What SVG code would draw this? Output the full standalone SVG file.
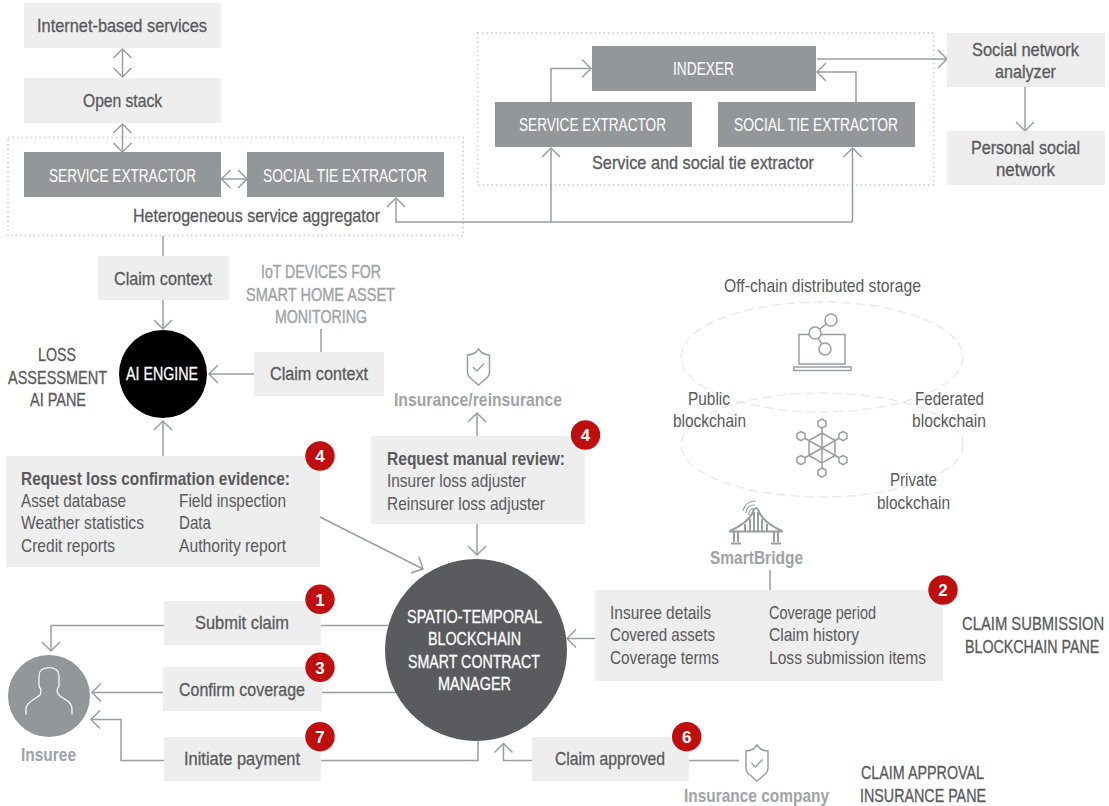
<svg xmlns="http://www.w3.org/2000/svg" width="1109" height="806" viewBox="0 0 1109 806">
<style>
text{font-family:"Liberation Sans",Arial,sans-serif;font-size:18.5px;fill:#58595b}
.m{stroke:#58595b;stroke-width:.3}
.w{fill:#fff}
.wm{fill:#fff;stroke:#fff;stroke-width:.3}
.g{fill:#a0a3a4;font-weight:bold;stroke:none}
.gm{fill:#a0a3a4;stroke:#a0a3a4;stroke-width:.4}
.b{font-weight:bold}
.n{fill:#fff;font-weight:bold;font-size:17px;text-anchor:middle}
.lt{fill:#eeeeee}
.dk{fill:#939799}
.badge{fill:#c00d0d}
.dot{fill:none;stroke:#d4d6d7;stroke-width:2;stroke-dasharray:1.5 3}
.ell{fill:none;stroke:#e6e7e8;stroke-width:1.3;stroke-dasharray:9 5}
.c{fill:none;stroke:#9a9d9f;stroke-width:1.5}
.ar{marker-end:url(#a)}
.ab{marker-start:url(#as);marker-end:url(#a)}
.ic{fill:none;stroke:#9a9d9f;stroke-width:1.5}
.icf{fill:#fff;stroke:#9a9d9f;stroke-width:1.5}
</style>
<defs>
<marker id="a" markerUnits="userSpaceOnUse" markerWidth="22" markerHeight="24" refX="11" refY="12" orient="auto"><path d="M2,3 L11,12 L2,21" fill="none" stroke="#9a9d9f" stroke-width="1.5"/></marker>
<marker id="as" markerUnits="userSpaceOnUse" markerWidth="22" markerHeight="24" refX="11" refY="12" orient="auto"><path d="M20,3 L11,12 L20,21" fill="none" stroke="#9a9d9f" stroke-width="1.5"/></marker>
<path id="shield" d="M0,-18 L3,-14.500 Q7,-12 11,-12 L11,5 Q11,9 7,12 L0,18 L-7,12 Q-11,9 -11,5 L-11,-12 Q-7,-12 -3,-14.500 Z M-5.500,0 L-1.500,4 L5.500,-3.500"/>
</defs>

<rect class="dot" x="8" y="137.500" width="455" height="98"/>
<rect class="dot" x="477.500" y="33" width="456" height="152"/>
<ellipse class="ell" cx="822" cy="357" rx="141" ry="55"/>
<ellipse class="ell" cx="822" cy="445" rx="141" ry="52"/>

<g id="connectors">
<path class="c ab" d="M122.500,49V77"/>
<path class="c ab" d="M122.500,124V152"/>
<path class="c ab" d="M221.500,179H247"/>
<path class="c ar" d="M852.500,222H396V198"/>
<path class="c ar" d="M852.500,222V148"/>
<path class="c ar" d="M551,222V148"/>
<path class="c ar" d="M551,102V68.500H591"/>
<path class="c ar" d="M856,102V72H817"/>
<path class="c ar" d="M817,59H947"/>
<path class="c ar" d="M1025,87V131"/>
<path class="c" d="M163,236V256"/>
<path class="c ar" d="M163,300V329"/>
<path class="c ar" d="M254,374H209"/>
<path class="c" d="M321,329V352"/>
<path class="c ar" d="M163,458V421"/>
<path class="c ar" d="M320,517L423,569"/>
<path class="c ar" d="M477,436V413"/>
<path class="c ar" d="M477,524V555"/>
<path class="c ar" d="M595,638.500H567"/>
<path class="c" d="M770,570V590"/>
<path class="c" d="M321,625.500H388"/>
<path class="c ar" d="M164,625.500H51V651"/>
<path class="c" d="M322,692.500H397"/>
<path class="c ar" d="M163,692.500H92"/>
<path class="c" d="M321,760.500H478V741"/>
<path class="c ar" d="M164,760.500H121V719.500H91"/>
<path class="c ar" d="M532,760.500H503.500V743.500"/>
<path class="c" d="M689,760.500H739"/>
</g>

<g id="internet"><rect class="lt" x="24" y="3" width="197" height="45"/><text class="m" x="37" y="32" textLength="170" lengthAdjust="spacingAndGlyphs">Internet-based services</text></g>
<g id="openstack"><rect class="lt" x="24" y="78" width="197" height="45"/><text class="m" x="83" y="107" textLength="79" lengthAdjust="spacingAndGlyphs">Open stack</text></g>
<g id="service1"><rect class="dk" x="24" y="152" width="197" height="45"/><text class="w" x="49" y="182" textLength="147" lengthAdjust="spacingAndGlyphs">SERVICE EXTRACTOR</text></g>
<g id="social1"><rect class="dk" x="247" y="152" width="197" height="45"/><text class="w" x="263" y="182" textLength="164" lengthAdjust="spacingAndGlyphs">SOCIAL TIE EXTRACTOR</text></g>
<g id="aggregator-label"><text class="m" x="133" y="222" textLength="247" lengthAdjust="spacingAndGlyphs">Heterogeneous service aggregator</text></g>

<g id="indexer"><rect class="dk" x="592" y="46" width="224" height="45"/><text class="w" x="673" y="75" textLength="61" lengthAdjust="spacingAndGlyphs">INDEXER</text></g>
<g id="service2"><rect class="dk" x="495" y="102" width="197" height="45"/><text class="w" x="519" y="131" textLength="147" lengthAdjust="spacingAndGlyphs">SERVICE EXTRACTOR</text></g>
<g id="social2"><rect class="dk" x="718" y="102" width="197" height="45"/><text class="w" x="734" y="131" textLength="164" lengthAdjust="spacingAndGlyphs">SOCIAL TIE EXTRACTOR</text></g>
<g id="extractor-label"><text class="m" x="592" y="169" textLength="222" lengthAdjust="spacingAndGlyphs">Service and social tie extractor</text></g>
<g id="analyzer"><rect class="lt" x="947" y="33" width="158" height="54"/><text class="m" x="972" y="56" textLength="107" lengthAdjust="spacingAndGlyphs">Social network</text><text class="m" x="995" y="78" textLength="61" lengthAdjust="spacingAndGlyphs">analyzer</text></g>
<g id="personal"><rect class="lt" x="947" y="131" width="158" height="54"/><text class="m" x="971" y="154" textLength="109" lengthAdjust="spacingAndGlyphs">Personal social</text><text class="m" x="996" y="176" textLength="59" lengthAdjust="spacingAndGlyphs">network</text></g>

<g id="claimcontext1"><rect class="lt" x="98" y="256" width="131" height="44"/><text class="m" x="114" y="285" textLength="98" lengthAdjust="spacingAndGlyphs">Claim context</text></g>
<g id="iot"><text class="gm" x="261" y="278" textLength="120" lengthAdjust="spacingAndGlyphs">IoT DEVICES FOR</text><text class="gm" x="246" y="301" textLength="149" lengthAdjust="spacingAndGlyphs">SMART HOME ASSET</text><text class="gm" x="275" y="323" textLength="92" lengthAdjust="spacingAndGlyphs">MONITORING</text></g>
<g id="aiengine"><circle cx="163" cy="374" r="44" fill="#000"/><text class="wm" x="126" y="380" textLength="72" lengthAdjust="spacingAndGlyphs">AI ENGINE</text></g>
<g id="claimcontext2"><rect class="lt" x="254" y="352" width="130" height="44"/><text class="m" x="270" y="380" textLength="98" lengthAdjust="spacingAndGlyphs">Claim context</text></g>
<g id="losspane"><text class="m" x="38" y="361" textLength="38" lengthAdjust="spacingAndGlyphs">LOSS</text><text class="m" x="8" y="384" textLength="99" lengthAdjust="spacingAndGlyphs">ASSESSMENT</text><text class="m" x="30" y="406" textLength="56" lengthAdjust="spacingAndGlyphs">AI PANE</text></g>

<g id="evidence"><rect class="lt" x="6" y="456" width="314" height="111"/>
<text class="b" x="21" y="485" textLength="269" lengthAdjust="spacingAndGlyphs">Request loss confirmation evidence:</text>
<text x="21" y="507" textLength="105" lengthAdjust="spacingAndGlyphs">Asset database</text>
<text x="21" y="529" textLength="123" lengthAdjust="spacingAndGlyphs">Weather statistics</text>
<text x="21" y="552" textLength="94" lengthAdjust="spacingAndGlyphs">Credit reports</text>
<text x="179" y="507" textLength="107" lengthAdjust="spacingAndGlyphs">Field inspection</text>
<text x="179" y="529" textLength="32" lengthAdjust="spacingAndGlyphs">Data</text>
<text x="179" y="552" textLength="107" lengthAdjust="spacingAndGlyphs">Authority report</text>
<circle class="badge" cx="320" cy="456" r="14.700"/><text class="n" x="320" y="462">4</text></g>

<g id="insurance"><g class="ic"><use href="#shield" x="478.500" y="367"/></g><text class="g" x="394" y="406" textLength="168" lengthAdjust="spacingAndGlyphs">Insurance/reinsurance</text></g>
<g id="manual"><rect class="lt" x="371" y="436" width="214" height="88"/>
<text class="b" x="387" y="465" textLength="178" lengthAdjust="spacingAndGlyphs">Request manual review:</text>
<text x="387" y="487" textLength="139" lengthAdjust="spacingAndGlyphs">Insurer loss adjuster</text>
<text x="387" y="510" textLength="158" lengthAdjust="spacingAndGlyphs">Reinsurer loss adjuster</text>
<circle class="badge" cx="585.500" cy="435" r="14.700"/><text class="n" x="585.500" y="441">4</text></g>

<g id="storage"><text x="724" y="292" textLength="197" lengthAdjust="spacingAndGlyphs">Off-chain distributed storage</text>
<rect class="ic" x="799" y="334.500" width="46" height="29.500"/><rect class="ic" x="794" y="367" width="57" height="3.500"/>
<path class="ic" d="M815,333L831,320M815,333L825,349"/>
<circle class="icf" cx="831" cy="320" r="6"/><circle class="icf" cx="815" cy="333" r="6"/><circle class="icf" cx="825" cy="349" r="6"/></g>
<g id="network">
<path class="ic" d="M822,433L835,440.500V455.500L822,463L809,455.500V440.500Z M822,424V472 M801,436L843,460 M843,436L801,460"/>
<path class="icf" d="M822,419l4,2.300v4.600l-4,2.300l-4,-2.300v-4.600Z M843,431.500l4,2.300v4.600l-4,2.300l-4,-2.300v-4.600Z M843,455.500l4,2.300v4.600l-4,2.300l-4,-2.300v-4.600Z M822,468l4,2.300v4.600l-4,2.300l-4,-2.300v-4.600Z M801,455.500l4,2.300v4.600l-4,2.300l-4,-2.300v-4.600Z M801,431.500l4,2.300v4.600l-4,2.300l-4,-2.300v-4.600Z"/>
</g>
<g id="chain-labels">
<text x="688" y="405" textLength="42" lengthAdjust="spacingAndGlyphs">Public</text>
<text x="673" y="427" textLength="73" lengthAdjust="spacingAndGlyphs">blockchain</text>
<text x="915" y="405" textLength="69" lengthAdjust="spacingAndGlyphs">Federated</text>
<text x="912" y="427" textLength="74" lengthAdjust="spacingAndGlyphs">blockchain</text>
<text x="890" y="486" textLength="47" lengthAdjust="spacingAndGlyphs">Private</text>
<text x="877" y="509" textLength="73" lengthAdjust="spacingAndGlyphs">blockchain</text>
</g>
<g id="smartbridge">
<path class="ic" style="stroke-width:2" d="M729,531.500H783M734,532V542M738,532V542M774,532V542M778,532V542M731,543.500H741M771,543.500H781M730,531C741,526 749,520 752.500,513Q756,503 759.500,513C763,520 771,526 782,531M745,531V524M750,531V519M754,531V512M758,531V512M762,531V519M767,531V524"/>
<path class="ic" style="stroke-width:1.100" d="M743,511a12,12 0 0 1 13,-10M746,513a8,8 0 0 1 9,-8M749,515a5,5 0 0 1 6,-6"/>
<text class="g" x="710" y="564" textLength="93" lengthAdjust="spacingAndGlyphs">SmartBridge</text></g>

<g id="manager"><circle cx="476" cy="650" r="91" fill="#5a5b5e"/>
<text class="wm" x="407" y="623" textLength="135" lengthAdjust="spacingAndGlyphs">SPATIO-TEMPORAL</text>
<text class="wm" x="428" y="645" textLength="93" lengthAdjust="spacingAndGlyphs">BLOCKCHAIN</text>
<text class="wm" x="408" y="668" textLength="132" lengthAdjust="spacingAndGlyphs">SMART CONTRACT</text>
<text class="wm" x="438" y="690" textLength="73" lengthAdjust="spacingAndGlyphs">MANAGER</text></g>

<g id="submission"><rect class="lt" x="595" y="590" width="348" height="91"/>
<text x="610" y="619" textLength="101" lengthAdjust="spacingAndGlyphs">Insuree details</text>
<text x="610" y="641" textLength="105" lengthAdjust="spacingAndGlyphs">Covered assets</text>
<text x="610" y="664" textLength="109" lengthAdjust="spacingAndGlyphs">Coverage terms</text>
<text x="769" y="619" textLength="107" lengthAdjust="spacingAndGlyphs">Coverage period</text>
<text x="769" y="641" textLength="90" lengthAdjust="spacingAndGlyphs">Claim history</text>
<text x="769" y="664" textLength="157" lengthAdjust="spacingAndGlyphs">Loss submission items</text>
<circle class="badge" cx="943" cy="590" r="14.700"/><text class="n" x="943" y="596">2</text></g>
<g id="submission-pane"><text class="m" transform="translate(962 630) scale(.8 1)">CLAIM SUBMISSION</text><text class="m" transform="translate(965 653) scale(.77 1)">BLOCKCHAIN PANE</text></g>

<g id="submit"><rect class="lt" x="164" y="601" width="157" height="44"/><text class="m" x="195" y="629" textLength="94" lengthAdjust="spacingAndGlyphs">Submit claim</text><circle class="badge" cx="320" cy="599.300" r="14.700"/><text class="n" x="320" y="605.500">1</text></g>
<g id="confirm"><rect class="lt" x="163" y="667" width="159" height="44"/><text class="m" x="179" y="696" textLength="126" lengthAdjust="spacingAndGlyphs">Confirm coverage</text><circle class="badge" cx="320" cy="667.300" r="14.700"/><text class="n" x="320" y="673.500">3</text></g>
<g id="payment"><rect class="lt" x="164" y="737" width="157" height="44"/><text class="m" x="184" y="765" textLength="116" lengthAdjust="spacingAndGlyphs">Initiate payment</text><circle class="badge" cx="320" cy="736.700" r="14.700"/><text class="n" x="320" y="743">7</text></g>
<g id="insuree"><circle class="dk" cx="49" cy="696" r="41"/>
<path d="M26,714.500V708Q27,704 30,702L40,695Q41,693 41,690L39,686V676Q39,668 49,667.500Q59,668 59,676V686L57,690Q57,694 60,696L69,702Q71,704 72,708V714.500" fill="none" stroke="#fff" stroke-width="1.200"/>
<text class="g" x="21" y="761" textLength="55" lengthAdjust="spacingAndGlyphs">Insuree</text></g>

<g id="approved"><rect class="lt" x="532" y="737" width="157" height="44"/><text class="m" x="555" y="765" textLength="110" lengthAdjust="spacingAndGlyphs">Claim approved</text><circle class="badge" cx="686.700" cy="736.700" r="14.700"/><text class="n" x="686.700" y="743">6</text></g>
<g id="company"><g class="ic"><use href="#shield" x="757" y="763"/></g><text class="g" x="684" y="802" textLength="145" lengthAdjust="spacingAndGlyphs">Insurance company</text></g>
<g id="approval-pane"><text class="m" x="861" y="779" textLength="123" lengthAdjust="spacingAndGlyphs">CLAIM APPROVAL</text><text class="m" x="860" y="802" textLength="126" lengthAdjust="spacingAndGlyphs">INSURANCE PANE</text></g>
</svg>
